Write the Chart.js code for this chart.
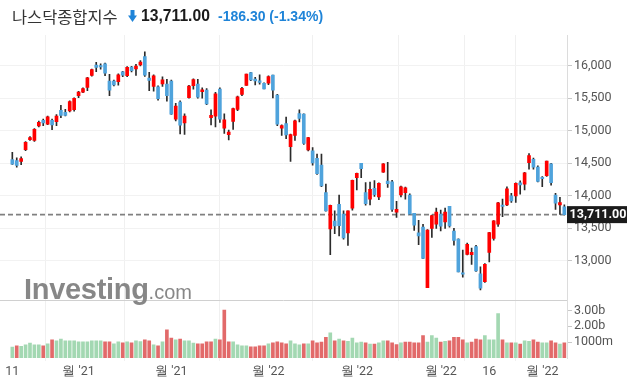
<!DOCTYPE html>
<html>
<head>
<meta charset="utf-8">
<script src="https://cdn.jsdelivr.net/npm/chart.js@4.4.0/dist/chart.umd.min.js"></script>
<style>
  html, body { margin: 0; padding: 0; background: #fff; }
  #wrap { position: relative; width: 633px; height: 387px; overflow: hidden; }
  #title span, #title svg { position: absolute; white-space: nowrap; z-index: 2; }
  #title .name { left: 12px; top: 5px; font-family: "Noto Sans CJK KR", sans-serif; font-size: 16.4px; line-height: 22px; color: #333; }
  #title svg { left: 128px; top: 10px; }
  #title .price { left: 141px; top: 6px; font-family: "Liberation Sans", Arial, sans-serif; font-weight: 700; font-size: 15.7px; line-height: 20px; color: #1a1a1a; }
  #title .chg { left: 218px; top: 7px; font-family: "Liberation Sans", Arial, sans-serif; font-weight: 700; font-size: 14px; line-height: 19px; color: #1f84d8; }
  #brand { position: absolute; left: 24px; top: 273px; z-index: 2; white-space: nowrap; color: rgba(125,125,125,0.92); font-family: "Liberation Sans", Arial, sans-serif; }
  #brand b { font-size: 29px; font-weight: 700; letter-spacing: -0.3px; }
  #brand span { font-size: 20px; font-weight: 400; }
  canvas { position: absolute; left: 0; top: 0; }
</style>
</head>
<body>
<div id="wrap">
  <div id="title"><span class="name">나스닥종합지수</span><svg width="9" height="12" viewBox="0 0 9 12"><rect x="2.5" y="0" width="4" height="6" fill="#1f84d8"/><polygon points="0,5.5 9,5.5 4.5,12" fill="#1f84d8"/></svg><span class="price">13,711.00</span><span class="chg">-186.30 (-1.34%)</span></div>
  <div id="brand"><b>Investing</b><span>.com</span></div>
  <canvas id="myChart" width="633" height="387"></canvas>
</div>
<script>
// daily candles, 2021-10-11 .. 2022-04-08
const opens = [14556,14540,14530,14708,14862,14850,15075,15160,15100,15160,15140,15315,15283,15305,15325,15540,15595,15665,15850,16010,
  16002,16030,15765,15765,15755,15905,15845,15980,15950,16012,16140,15810,15680,15675,15720,15718,15765,15180,15440,15120,
  15508,15695,15718,15600,15626,15200,15226,15640,15040,14940,15145,15330,15560,15697,15895,15795,15768,15730,15733,15855,
  15550,15040,15110,14755,14930,15265,15255,14705,14690,14575,14473,14050,13490,13610,13870,13720,13430,13810,14280,14500,
  14050,13950,14115,13985,14365,14227,14215,13750,14015,14050,14010,13730,13430,13520,12590,13500,13565,13720,13600,13840,
  13460,13335,12815,13100,13095,13220,12800,12680,13130,13345,13565,13858,13860,14000,14000,14200,14180,14510,14560,14442,
  14285,14310,14490,14010,13860,13830];
const highs = [14670,14585,14601,14832,14910,15035,15147,15180,15226,15180,15250,15390,15330,15460,15505,15605,15660,15820,15950,16052,
  16030,16040,15868,15780,15875,15915,15985,15990,16020,16080,16212,15900,15860,15690,15830,15790,15780,15420,15460,15260,
  15700,15800,15790,15660,15650,15320,15590,15660,15260,15010,15350,15535,15668,15871,15900,15822,15860,15735,15845,15857,
  15560,15090,15211,14950,15165,15320,15260,14900,14740,14640,14640,14180,13858,13770,14011,13770,13771,14242,14350,14500,
  14205,14210,14235,14200,14495,14515,14240,13915,14150,14135,14030,13730,13625,13560,13480,13705,13810,13780,13810,13840,
  13500,13340,13165,13275,13195,13240,12910,12960,13440,13620,13900,13950,14140,14040,14200,14230,14360,14650,14580,14460,
  14295,14535,14500,14040,13975,13860];
const lows = [14482,14440,14478,14693,14850,14835,15060,15077,15095,15015,15080,15200,15230,15290,15300,15510,15585,15615,15840,15910,
  15945,15846,15540,15690,15700,15830,15830,15905,15850,15995,15835,15615,15610,15470,15680,15455,15250,15150,14950,14945,
  15500,15640,15500,15500,15400,15090,15060,15130,14960,14860,15022,15310,15540,15697,15770,15705,15715,15643,15710,15505,
  15080,14930,14880,14530,14850,15135,14790,14690,14470,14330,14140,13765,13094,13420,13385,13335,13236,13780,14090,14278,
  13855,13860,13990,13940,14360,14130,13760,13670,13985,13950,13715,13470,13250,13035,12587,13360,13500,13460,13500,13520,
  13240,12830,12750,13090,12945,12840,12555,12670,12985,13320,13530,13680,13850,13900,13900,14025,14090,14410,14410,14215,
  14140,14300,14165,13790,13715,13705];
const closes = [14486,14466,14572,14823,14897,15022,15129,15122,15216,15090,15227,15236,15236,15448,15498,15596,15650,15812,15940,15972,
  15982,15887,15623,15704,15861,15854,15974,15922,15994,16057,15855,15775,15845,15492,15783,15538,15254,15381,15085,15225,
  15687,15787,15517,15631,15413,15238,15566,15180,15170,14981,15341,15522,15653,15871,15782,15766,15742,15645,15833,15623,
  15100,15081,14936,14943,15153,15188,14807,14894,14507,14340,14154,13769,13855,13539,13542,13353,13771,14240,14346,14418,
  13879,14098,14016,14194,14490,14186,13791,13791,14140,14124,13717,13548,13382,13037,13474,13695,13751,13532,13752,13538,
  13313,12831,12796,13256,13130,12844,12581,12949,13437,13615,13894,13838,14109,13923,14192,14169,14355,14620,14442,14221,
  14262,14533,14204,13889,13897,13711];
// volume in billions, and its colour side (1 = green, 0 = red)
const volumes = [0.69,0.77,0.73,0.83,0.94,0.83,0.83,0.77,0.90,1.15,1.08,1.20,1.08,1.08,1.08,1.02,1.02,1.02,1.08,1.08,
  1.08,1.02,1.02,0.90,1.02,0.96,1.02,0.96,1.08,1.04,1.15,1.08,0.83,0.77,1.02,1.77,1.25,1.15,1.20,1.08,
  1.08,0.94,0.90,0.90,1.02,1.02,1.20,1.15,3.02,1.02,1.02,0.83,0.77,0.77,0.71,0.71,0.77,0.77,0.90,0.96,
  1.02,0.96,0.90,1.08,0.90,0.83,0.90,0.90,1.08,0.96,1.01,1.30,1.58,1.09,1.20,1.09,1.05,1.26,0.95,1.01,
  0.95,0.88,0.88,0.95,1.09,1.09,0.95,0.84,0.95,1.01,1.01,0.95,0.95,1.41,1.01,1.41,1.26,1.01,1.05,1.09,
  1.30,1.30,1.15,0.95,1.01,1.20,1.15,1.41,1.15,1.15,2.80,1.15,0.95,0.95,0.95,0.88,1.09,1.05,1.15,1.01,
  0.95,0.95,1.09,0.95,0.88,0.95];
const volUp = [1,0,1,1,1,1,1,0,1,0,1,1,1,1,1,1,1,1,1,1,
  1,0,0,1,1,0,1,0,1,1,0,0,1,0,1,0,0,1,0,1,
  1,1,0,0,0,0,1,0,0,0,1,1,1,1,0,0,0,0,1,0,
  0,0,0,1,1,1,0,1,0,0,0,0,1,0,1,0,1,1,1,1,
  0,1,0,1,1,0,0,0,1,0,0,0,0,0,1,1,1,0,1,0,
  0,0,0,1,0,0,0,1,1,1,1,0,1,0,1,0,1,1,0,0,
  1,1,0,0,1,0];
const lastPrice = 13711;
const priceTicks = [13000, 13500, 14000, 14500, 15000, 15500, 16000];
const volTicks = [1, 2, 3];
const volTickLabels = ['1000m', '2.00b', '3.00b'];
const xTickIdx = [0, 15, 36, 58, 78, 97, 108, 120];
const xTickLabels = ['11', "월 '21", "월 '21", "월 '22", "월 '22", "월 '22", '16', "월 '22"];

const UP = '#ff0000', DOWN = '#4fa3dc', WICK = '#2b2b2b';
const VOL_UP = '#a3d8b2', VOL_DOWN = '#e26a6a';

const bodies = closes.map((c, i) => ({ x: i, y: [opens[i], c] }));
const wicks = closes.map((c, i) => ({ x: i, y: [lows[i], highs[i]] }));
const vols = volumes.map((v, i) => ({ x: i, y: v }));

const fixWidth = (scale) => { scale.width = 66; };

const overlay = {
  id: 'overlay',
  beforeDatasetsDraw(chart) {
    const { ctx, chartArea } = chart;
    const y = chart.scales.y;
    const yv = chart.scales.yv;
    ctx.save();
    // panel separator
    ctx.strokeStyle = '#d0d0d0';
    ctx.lineWidth = 1;
    ctx.beginPath();
    ctx.moveTo(chartArea.left, Math.round(yv.top) + 0.5);
    ctx.lineTo(chartArea.right, Math.round(yv.top) + 0.5);
    ctx.stroke();
    // last price line
    const py = y.getPixelForValue(lastPrice);
    ctx.strokeStyle = '#808080';
    ctx.lineWidth = 1.6;
    ctx.setLineDash([5, 3]);
    ctx.beginPath();
    ctx.moveTo(chartArea.left, py);
    ctx.lineTo(chartArea.right, py);
    ctx.stroke();
    ctx.restore();
  },
  afterDraw(chart) {
    const { ctx, chartArea } = chart;
    const py = chart.scales.y.getPixelForValue(lastPrice);
    ctx.save();
    ctx.fillStyle = '#1b1b1b';
    ctx.fillRect(chartArea.right, py - 8.5, 60, 17);
    ctx.fillStyle = '#fff';
    ctx.font = 'bold 12.5px Roboto';
    ctx.textAlign = 'center';
    ctx.textBaseline = 'middle';
    ctx.fillText(lastPrice.toLocaleString('en-US', { minimumFractionDigits: 2 }), chartArea.right + 31, py + 0.5);
    ctx.restore();
  }
};

Chart.defaults.font.family = 'Roboto';
Chart.defaults.animation = false;

new Chart(document.getElementById('myChart').getContext('2d'), {
  type: 'bar',
  data: {
    datasets: [
      {
        label: 'body',
        data: bodies,
        order: 0,
        grouped: false,
        barThickness: 3,
        yAxisID: 'y',
        backgroundColor: closes.map((c, i) => c >= opens[i] ? UP : DOWN)
      },
      {
        label: 'wick',
        data: wicks,
        order: 1,
        grouped: false,
        barThickness: 1,
        yAxisID: 'y',
        backgroundColor: WICK
      },
      {
        label: 'volume',
        data: vols,
        order: 2,
        grouped: false,
        barThickness: 3,
        yAxisID: 'yv',
        backgroundColor: volUp.map(u => u ? VOL_UP : VOL_DOWN)
      }
    ]
  },
  options: {
    responsive: false,
    maintainAspectRatio: false,
    layout: { padding: { top: 35, left: 0, right: 0, bottom: 0 } },
    plugins: { legend: { display: false }, tooltip: { enabled: false } },
    scales: {
      x: {
        type: 'linear',
        min: -2.79,
        max: 125.6,
        offset: false,
        afterBuildTicks: (scale) => { scale.ticks = xTickIdx.map(v => ({ value: v })); },
        afterFit: (scale) => { scale.height = 29; },
        ticks: {
          autoSkip: false,
          maxRotation: 0,
          padding: 3,
          color: '#555',
          font: { size: 12.5 },
          callback: (value) => {
            const k = xTickIdx.indexOf(value);
            return k >= 0 ? xTickLabels[k] : null;
          }
        },
        grid: { color: '#f0f0f0', drawTicks: true, tickLength: 3, tickColor: '#f0f0f0' },
        border: { display: false }
      },
      y: {
        position: 'right',
        stack: 'panels',
        stackWeight: 264.5,
        min: 12404,
        max: 16472,
        afterBuildTicks: (scale) => { scale.ticks = priceTicks.map(v => ({ value: v })); },
        afterFit: fixWidth,
        ticks: {
          autoSkip: false,
          padding: 2,
          color: '#555',
          font: { size: 12.5 },
          callback: (v) => v.toLocaleString('en-US')
        },
        grid: { color: '#f2f2f2', tickLength: 5, tickColor: '#c8c8c8' },
        border: { display: true, color: '#dcdcdc' }
      },
      yv: {
        position: 'right',
        stack: 'panels',
        stackWeight: 58.3,
        min: 0,
        max: 3.68,
        afterBuildTicks: (scale) => { scale.ticks = volTicks.map(v => ({ value: v })); },
        afterFit: fixWidth,
        ticks: {
          autoSkip: false,
          padding: 2,
          color: '#555',
          font: { size: 12.5 },
          callback: (v) => volTickLabels[volTicks.indexOf(v)]
        },
        grid: { drawOnChartArea: false, tickLength: 5, tickColor: '#c8c8c8' },
        border: { display: true, color: '#dcdcdc' }
      }
    }
  },
  plugins: [overlay]
});
</script>
</body>
</html>
